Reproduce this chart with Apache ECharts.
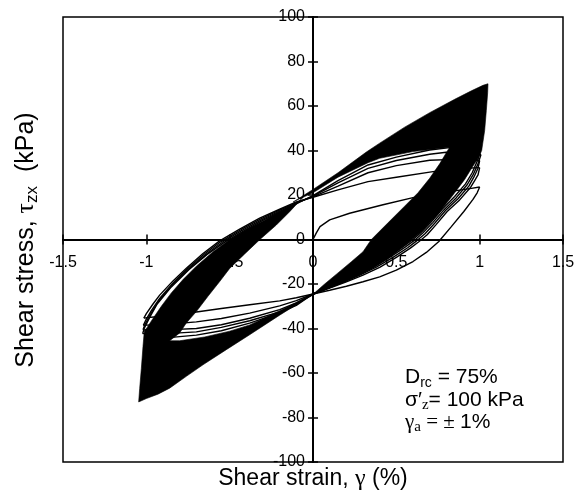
<!DOCTYPE html>
<html>
<head>
<meta charset="utf-8">
<script src="https://cdn.jsdelivr.net/npm/echarts@6/dist/echarts.min.js"></script>
<style>
  html, body { margin: 0; padding: 0; background: #fff; }
  #chart { width: 579px; height: 495px; }
</style>
</head>
<body>
<div id="chart"></div>
<script>
// 轴刻度
var xTicks = [-1.5, 1.5, 0.5];   // min, max, interval
var yTicks = [-100, 100, 20];

// 黑色密集区（后期循环叠在一起）
var blackUpper = [
  [-0.12, 16.8], [0, 22.5], [0.15, 30], [0.32, 39.3], [0.4, 43.3], [0.55, 50.5], [0.7, 57], [0.85, 63],
  [0.95, 66.8], [1.02, 69.3], [1.05, 70],
  [1.048, 66], [1.04, 58], [1.03, 49], [1.012, 40], [0.995, 37], [0.96, 33], [0.91, 27], [0.84, 20],
  [0.75, 11.5], [0.65, 3.5], [0.57, -1.5], [0.44, -9], [0.3, -15.3], [0.15, -20.2], [0.03, -23.8], [0, -24.6],
  [0.07, -20], [0.15, -15], [0.23, -10], [0.3, -5.5], [0.35, 0], [0.45, 7.5], [0.55, 15], [0.63, 21],
  [0.7, 27.5], [0.76, 34], [0.82, 41.5],
  [0.6, 39.5], [0.4, 36.5], [0.33, 34.5], [0.15, 28], [0, 21], [-0.08, 18.3]
];
var blackLower = [
  [-0.068, 18.3], [-0.1, 16.3], [-0.2, 12.5], [-0.3, 8.3], [-0.4, 4.5], [-0.5, 0], [-0.6, -5.5], [-0.7, -12],
  [-0.78, -18], [-0.85, -24], [-0.91, -30], [-0.96, -35.5], [-0.995, -39.5], [-1.012, -41], [-1.02, -48],
  [-1.03, -58], [-1.04, -67], [-1.046, -73],
  [-1.0, -71.5], [-0.93, -69.5], [-0.86, -66.8], [-0.76, -61.5], [-0.66, -56.3], [-0.52, -49.5],
  [-0.38, -42.8], [-0.2, -34], [-0.05, -27], [0.02, -24.2],
  [0, -24.6], [-0.2, -32], [-0.38, -38.4], [-0.5, -41.2], [-0.65, -43.8], [-0.8, -45.5], [-0.86, -45.5],
  [-0.8, -42], [-0.76, -37.5], [-0.7, -32.4], [-0.63, -25.5], [-0.56, -18.9], [-0.5, -13], [-0.41, -6.5],
  [-0.32, -0.1], [-0.22, 6.5], [-0.14, 12.5]
];

// 初始加载与前几个循环
var initLoad = [[0, 0], [0.02, 3], [0.042, 5.8], [0.1, 8.8], [0.22, 11.8], [0.42, 15.6], [0.6, 18.8], [0.8, 21.3], [0.95, 23], [1.0, 23.6]];
var c1Down = [[1.0, 23.6], [0.985, 21], [0.96, 18], [0.905, 12.6], [0.83, 5.8], [0.755, -0.9], [0.68, -5.8], [0.6, -9.9], [0.5, -13.8], [0.4, -16.8], [0.3, -19], [0.2, -21], [0.1, -22.8], [0, -24.5], [-0.1, -26.2], [-0.2, -27.6], [-0.38, -29.3], [-0.55, -31], [-0.7, -32.6], [-0.85, -34], [-1.0, -35.2], [-1.015, -35.3]];
var c1Up = [[-1.015, -35.3], [-1.0, -33.3], [-0.96, -29], [-0.92, -25], [-0.84, -18.6], [-0.76, -12.9], [-0.66, -6.3], [-0.56, -0.6], [-0.44, 4.7], [-0.32, 9.6], [-0.2, 13.6], [-0.1, 16.9], [0, 19], [0.15, 22.3], [0.33, 26], [0.5, 28], [0.72, 30.5], [0.88, 31.8], [0.99, 32.3], [1.0, 32.3]];
var c2Down = [[1.0, 32.3], [0.99, 29], [0.97, 26.5], [0.946, 23.5], [0.88, 17.8], [0.805, 12.6], [0.74, 6.8], [0.685, 2.1], [0.635, -1], [0.584, -3.9], [0.5, -8], [0.4, -12.5], [0.3, -16], [0.2, -19], [0.1, -21.8], [0, -24.5], [-0.1, -27.5], [-0.2, -29.8], [-0.38, -33.1], [-0.55, -35.5], [-0.7, -37], [-0.85, -38], [-1.0, -38.5], [-1.018, -38.6]];
var c2Up = [[-1.018, -38.6], [-1.005, -36.5], [-0.97, -32], [-0.92, -26.5], [-0.84, -19.5], [-0.75, -12.9], [-0.65, -6.4], [-0.55, -0.8], [-0.43, 4.5], [-0.31, 9.4], [-0.19, 13.5], [-0.09, 16.8], [0, 19.2], [0.15, 24], [0.33, 30], [0.5, 33.2], [0.7, 35.6], [0.85, 36], [0.99, 35.6], [1.0, 35.5]];
var c3Down = [[1.0, 35.5], [0.99, 32], [0.965, 28], [0.935, 24], [0.87, 18.3], [0.795, 13], [0.73, 7.3], [0.672, 2.6], [0.622, -0.6], [0.57, -3.6], [0.48, -8], [0.38, -12.4], [0.28, -16], [0.18, -19.3], [0.08, -22.2], [0, -24.5], [-0.1, -28.5], [-0.2, -31.5], [-0.38, -35.4], [-0.55, -38.3], [-0.7, -40], [-0.85, -40.5], [-1.0, -40.6], [-1.02, -40.6]];
var c3Up = [[-1.02, -40.6], [-1.01, -38.5], [-0.975, -33.5], [-0.93, -28], [-0.845, -20.5], [-0.745, -13.2], [-0.64, -6.5], [-0.54, -1], [-0.42, 4.3], [-0.3, 9.2], [-0.18, 13.4], [-0.085, 16.8], [0, 19.5], [0.15, 25.5], [0.33, 32], [0.5, 35.5], [0.7, 38.3], [0.8, 39.2], [0.9, 38.8], [1.0, 38.2], [1.008, 38.2]];
var c4Down = [[1.008, 38.2], [0.99, 34], [0.96, 29], [0.925, 24.6], [0.86, 18.8], [0.785, 13.3], [0.72, 7.7], [0.66, 3], [0.61, -0.3], [0.555, -3.3], [0.46, -8], [0.36, -12.6], [0.26, -16.3], [0.16, -19.6], [0.07, -22.4], [0, -24.5], [-0.1, -29], [-0.2, -32.5], [-0.38, -36.5], [-0.55, -39.5], [-0.7, -41.5], [-0.85, -42.2], [-1.0, -42.3], [-1.022, -42.3]];
var c4Up = [[-1.022, -42.3], [-1.013, -40], [-0.98, -35], [-0.935, -29], [-0.85, -21.3], [-0.745, -13.6], [-0.635, -6.7], [-0.53, -1.2], [-0.41, 4.1], [-0.29, 9], [-0.17, 13.3], [-0.08, 16.8], [0, 19.7], [0.15, 26.5], [0.33, 33.5], [0.5, 37], [0.7, 40.2], [0.82, 41.3], [1.0, 41.5], [1.01, 41.5]];
var c5Down = [[1.01, 41.5], [0.99, 36], [0.955, 30], [0.915, 25], [0.85, 19.3], [0.775, 13.6], [0.71, 8], [0.65, 3.3], [0.6, 0], [0.545, -3], [0.45, -8], [0.35, -12.8], [0.25, -16.5], [0.15, -19.9], [0.06, -22.7], [0, -24.5], [-0.1, -29.6], [-0.2, -33], [-0.38, -37.6], [-0.55, -41], [-0.7, -43], [-0.85, -44], [-1.0, -44.2]];

var loops = [initLoad, c1Down, c1Up, c2Down, c2Up, c3Down, c3Up, c4Down, c4Up, c5Down];

var sans = 'Liberation Sans';
var serif = 'Liberation Serif';

function polyRender(pts) {
  return function (params, api) {
    if (params.dataIndex !== 0) return;
    return {
      type: 'polygon',
      shape: { points: pts.map(function (p) { return api.coord(p); }) },
      style: { fill: '#000', stroke: '#000', lineWidth: 0.6 }
    };
  };
}

// 坐标轴放到零点处（用 offset，不靠 onZero）
function valueAxis(range, pos, offset, tickInside, showLabel, margin) {
  return {
    type: 'value', min: range[0], max: range[1], interval: range[2], position: pos, offset: offset,
    axisLine: { show: true, onZero: false, lineStyle: { color: '#000', width: 2 } },
    axisTick: { show: true, inside: tickInside, length: 5, lineStyle: { color: '#000', width: 1.5 } },
    axisLabel: { show: showLabel, margin: margin, color: '#000', fontSize: 16, fontFamily: sans },
    splitLine: { show: false }
  };
}

var series = [
  { type: 'custom', renderItem: polyRender(blackUpper), data: blackUpper, z: 2, silent: true },
  { type: 'custom', renderItem: polyRender(blackLower), data: blackLower, z: 2, silent: true }
];
loops.forEach(function (d) {
  series.push({
    type: 'line', data: d, showSymbol: false, symbol: 'none', z: 3,
    lineStyle: { color: '#000', width: 1.4 }
  });
});

var txt = function (x, y, text, rich) {
  return {
    type: 'text', x: x, y: y,
    style: { text: text, rich: rich, fill: '#000', align: 'left', verticalAlign: 'middle' }
  };
};
var rich = {
  a: { fontFamily: sans, fontSize: 21, lineHeight: 26, verticalAlign: 'middle' },
  g: { fontFamily: serif, fontSize: 21, lineHeight: 26, verticalAlign: 'middle' },
  s: { fontFamily: sans, fontSize: 14, lineHeight: 14, verticalAlign: 'bottom' },
  t: { fontFamily: serif, fontSize: 15, lineHeight: 14, verticalAlign: 'bottom' }
};
var xTitleRich = {
  a: { fontFamily: sans, fontSize: 23, lineHeight: 28, verticalAlign: 'middle' },
  g: { fontFamily: serif, fontSize: 24, lineHeight: 28, verticalAlign: 'middle' }
};
var yTitleRich = {
  a: { fontFamily: sans, fontSize: 25, lineHeight: 30, verticalAlign: 'middle' },
  g: { fontFamily: serif, fontSize: 26, lineHeight: 30, verticalAlign: 'middle' },
  s: { fontFamily: sans, fontSize: 17, lineHeight: 16, verticalAlign: 'bottom' }
};

var option = {
  animation: false,
  backgroundColor: '#fff',
  grid: { left: 63, right: 16, top: 17, bottom: 33, show: true, borderColor: '#000', borderWidth: 1.5 },
  xAxis: [
    valueAxis(xTicks, 'bottom', -222.5, true, true, 15),
    valueAxis(xTicks, 'bottom', -222.5, false, false, 15)
  ],
  yAxis: [
    valueAxis(yTicks, 'left', -250, true, true, 8),
    valueAxis(yTicks, 'left', -250, false, false, 8)
  ],
  graphic: [
    {
      type: 'text', x: 313, y: 479,
      style: { text: '{a|Shear strain, }{g|γ}{a| (%)}', rich: xTitleRich, fill: '#000', align: 'center', verticalAlign: 'middle' }
    },
    {
      type: 'text', x: 26, y: 240, rotation: Math.PI / 2,
      style: { text: '{a|Shear stress, }{g|τ}{s|zx}{a|  (kPa)}', rich: yTitleRich, fill: '#000', align: 'center', verticalAlign: 'middle' }
    },
    txt(405, 377, '{a|D}{s|rc}{a| = 75%}', rich),
    txt(405, 400, '{a|σ′}{t|z}{a|= 100 kPa}', rich),
    txt(405, 422, '{g|γ}{t|a}{g| = ± }{a|1%}', rich)
  ],
  series: series
};

var myChart = echarts.init(document.getElementById('chart'));
myChart.setOption(option);
</script>
</body>
</html>
